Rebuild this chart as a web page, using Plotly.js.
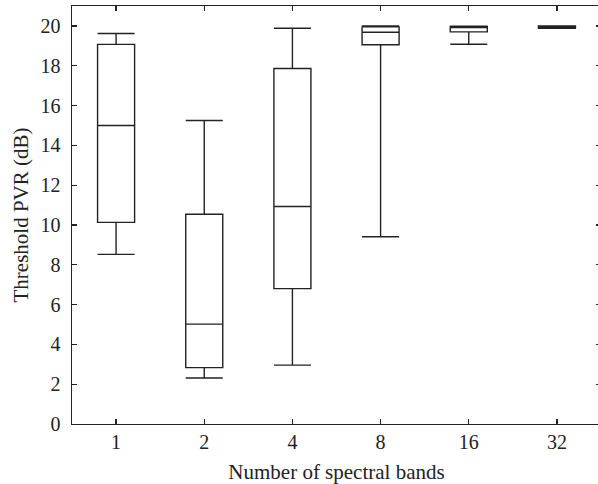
<!DOCTYPE html>
<html>
<head>
<meta charset="utf-8">
<script src="https://cdn.plot.ly/plotly-3.0.1.min.js"></script>
<style>
html, body { margin: 0; padding: 0; overflow: hidden; background: #fff; }
#chart { width: 602px; height: 484px; }
</style>
</head>
<body>
<div id="chart"></div>
<script>
const categories = ["1", "2", "4", "8", "16", "32"];
const lowerFence = [8.52, 2.31, 2.96, 9.41, 19.08, 19.88];
const q1Values = [10.13, 2.83, 6.80, 19.05, 19.70, 19.88];
const medianValues = [15.0, 5.02, 10.93, 19.68, 19.96, 19.95];
const q3Values = [19.07, 10.54, 17.86, 19.95, 19.97, 20.0];
const upperFence = [19.62, 15.25, 19.88, 20.0, 19.98, 20.0];
const yTicks = [0, 2, 4, 6, 8, 10, 12, 14, 16, 18, 20];

const lineColor = "#222222";
const fontFamily = "'Liberation Serif', 'DejaVu Serif', serif";

const trace = {
  type: "box",
  x: categories,
  q1: q1Values,
  median: medianValues,
  q3: q3Values,
  lowerfence: lowerFence,
  upperfence: upperFence,
  width: 0.42,
  whiskerwidth: 1,
  fillcolor: "rgba(255,255,255,0)",
  line: { color: lineColor, width: 1.4 },
  boxpoints: false,
  hoverinfo: "skip",
  showlegend: false
};

const layout = {
  width: 602,
  height: 484,
  margin: { l: 72, r: 1, t: 6, b: 60 },
  paper_bgcolor: "#ffffff",
  plot_bgcolor: "#ffffff",
  font: { family: fontFamily, size: 20, color: "#222222" },
  xaxis: {
    type: "category",
    categoryorder: "array",
    categoryarray: categories,
    range: [-0.5, 5.5],
    showline: true,
    linecolor: "#222222",
    linewidth: 1.4,
    mirror: "ticks",
    ticks: "inside",
    ticklen: 5,
    tickwidth: 1.2,
    tickcolor: "#222222",
    showgrid: false,
    zeroline: false,
    ticklabelstandoff: 0,
    tickfont: { family: fontFamily, size: 20, color: "#222222" },
    title: { text: "Number of spectral bands", font: { family: fontFamily, size: 21, color: "#222222" }, standoff: 12 }
  },
  yaxis: {
    range: [0, 21],
    tickvals: yTicks,
    ticktext: yTicks.map(String),
    showline: true,
    linecolor: "#222222",
    linewidth: 1.4,
    mirror: "ticks",
    ticks: "inside",
    ticklen: 5,
    tickwidth: 1.2,
    tickcolor: "#222222",
    showgrid: false,
    zeroline: false,
    ticklabelstandoff: 6,
    tickfont: { family: fontFamily, size: 20, color: "#222222" },
    title: { text: "Threshold PVR (dB)", font: { family: fontFamily, size: 21, color: "#222222" }, standoff: 6 }
  }
};

Plotly.newPlot("chart", [trace], layout, { staticPlot: true, displayModeBar: false });
</script>
</body>
</html>
